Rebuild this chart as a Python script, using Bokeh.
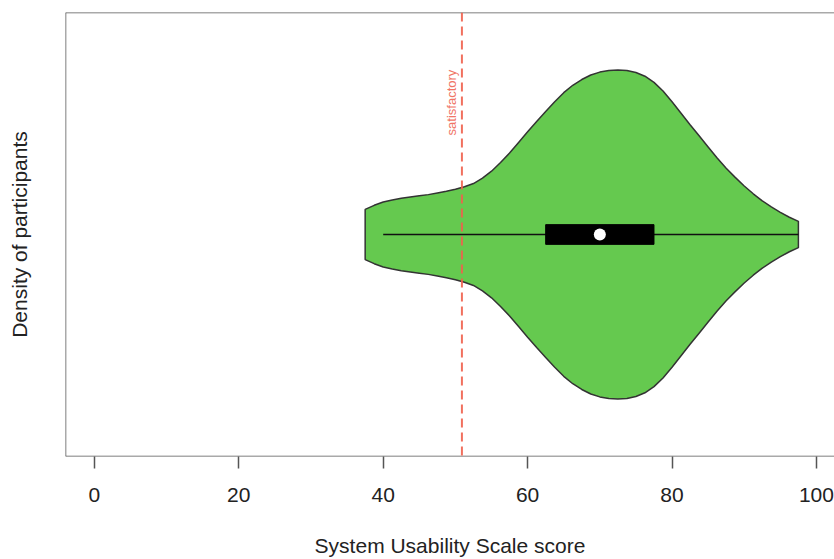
import numpy as np
from bokeh.plotting import figure
from bokeh.models import Range1d, FixedTicker, Span
from bokeh.core.properties import value
from bokeh.embed import file_html
from bokeh.resources import INLINE

# --- data ---
scores = [37.5, 38.75, 40, 41.25, 42.5, 43.75, 45, 46.25, 47.5, 48.75, 50,
          51.25, 52.5, 53.75, 55, 56.25, 57.5, 58.75, 60, 61.25, 62.5, 63.75,
          65, 66.25, 67.5, 68.75, 70, 71.25, 72.5, 73.75, 75, 76.25, 77.5,
          78.75, 80, 81.25, 82.5, 83.75, 85, 86.25, 87.5, 88.75, 90, 91.25,
          92.5, 93.75, 95, 96.25, 97.5]
density_halfwidth = [0.061, 0.071, 0.079, 0.084, 0.088, 0.091, 0.094, 0.097,
                     0.101, 0.105, 0.110, 0.116, 0.124, 0.137, 0.154, 0.175,
                     0.198, 0.224, 0.250, 0.275, 0.299, 0.323, 0.345, 0.363,
                     0.377, 0.388, 0.395, 0.399, 0.400, 0.399, 0.394, 0.385,
                     0.370, 0.349, 0.323, 0.295, 0.267, 0.240, 0.213, 0.186,
                     0.161, 0.139, 0.118, 0.099, 0.082, 0.067, 0.054, 0.042,
                     0.032]
whisker_low, whisker_high = 40, 97.5
q1, median, q3 = 62.5, 70, 77.5
threshold = 50.9
threshold_label = "satisfactory"
x_ticks = [0, 20, 40, 60, 80, 100]
center = 1.0

FONT = "Liberation Sans"

p = figure(width=834, height=559, output_backend="svg", toolbar_location=None,
           x_range=Range1d(-4, 102.5), y_range=Range1d(0.46, 1.54),
           min_border_left=65, min_border_right=0, min_border_top=12,
           min_border_bottom=100)
p.outline_line_color = None
p.grid.visible = False
p.background_fill_color = "white"
p.border_fill_color = "white"

# frame (left, top, bottom)
p.add_layout(Span(location=-4, dimension="height", line_color="#555555", line_width=1.5))
for loc in [0.46, 1.54]:
    p.add_layout(Span(location=loc, dimension="width", line_color="#555555", line_width=1.5))

# violin
xs = list(scores) + list(scores[::-1])
ys = [center + h for h in density_halfwidth] + [center - h for h in density_halfwidth[::-1]]
p.patch(xs, ys, fill_color="#65C94F", line_color="#333333", line_width=1.5)

# whisker
p.segment(x0=[whisker_low], y0=[center], x1=[whisker_high], y1=[center],
          line_color="#111111", line_width=1.5)
# box
p.quad(left=[q1], right=[q3], bottom=[center - 0.024], top=[center + 0.024],
       fill_color="black", line_color="black")
# median
p.scatter(x=[median], y=[center], size=12, fill_color="white", line_color=None)

# threshold line and label
p.add_layout(Span(location=threshold, dimension="height", line_color="#F0604D",
                  line_width=2, line_dash="9 5", line_alpha=0.9))
p.text(x=[threshold], y=[1.321], text=[threshold_label], angle=np.pi / 2,
       x_offset=-10, text_align="center", text_baseline="middle",
       text_font=value(FONT), text_font_size="13px", text_color="#F07466")

# x axis
xa = p.xaxis[0]
xa.ticker = FixedTicker(ticks=x_ticks)
xa.axis_line_color = None
xa.major_tick_out = 12
xa.major_tick_in = 0
xa.minor_tick_line_color = None
xa.major_tick_line_color = "#555555"
xa.major_tick_line_width = 1.5
xa.major_label_standoff = 19
xa.major_label_text_font = FONT
xa.major_label_text_font_size = "21px"
xa.major_label_text_color = "#222222"
xa.axis_label = "System Usability Scale score"
xa.axis_label_text_font = FONT
xa.axis_label_text_font_size = "21px"
xa.axis_label_text_font_style = "normal"
xa.axis_label_text_color = "#222222"
xa.axis_label_standoff = 29

# y axis
ya = p.yaxis[0]
ya.ticker = FixedTicker(ticks=[])
ya.axis_line_color = None
ya.major_tick_out = 0
ya.major_tick_in = 0
ya.minor_tick_line_color = None
ya.major_label_text_font_size = "0px"
ya.axis_label = "Density of participants"
ya.axis_label_text_font = FONT
ya.axis_label_text_font_size = "21px"
ya.axis_label_text_font_style = "normal"
ya.axis_label_text_color = "#222222"
ya.axis_label_standoff = 35

open("out.html", "w").write(file_html(p, INLINE))
